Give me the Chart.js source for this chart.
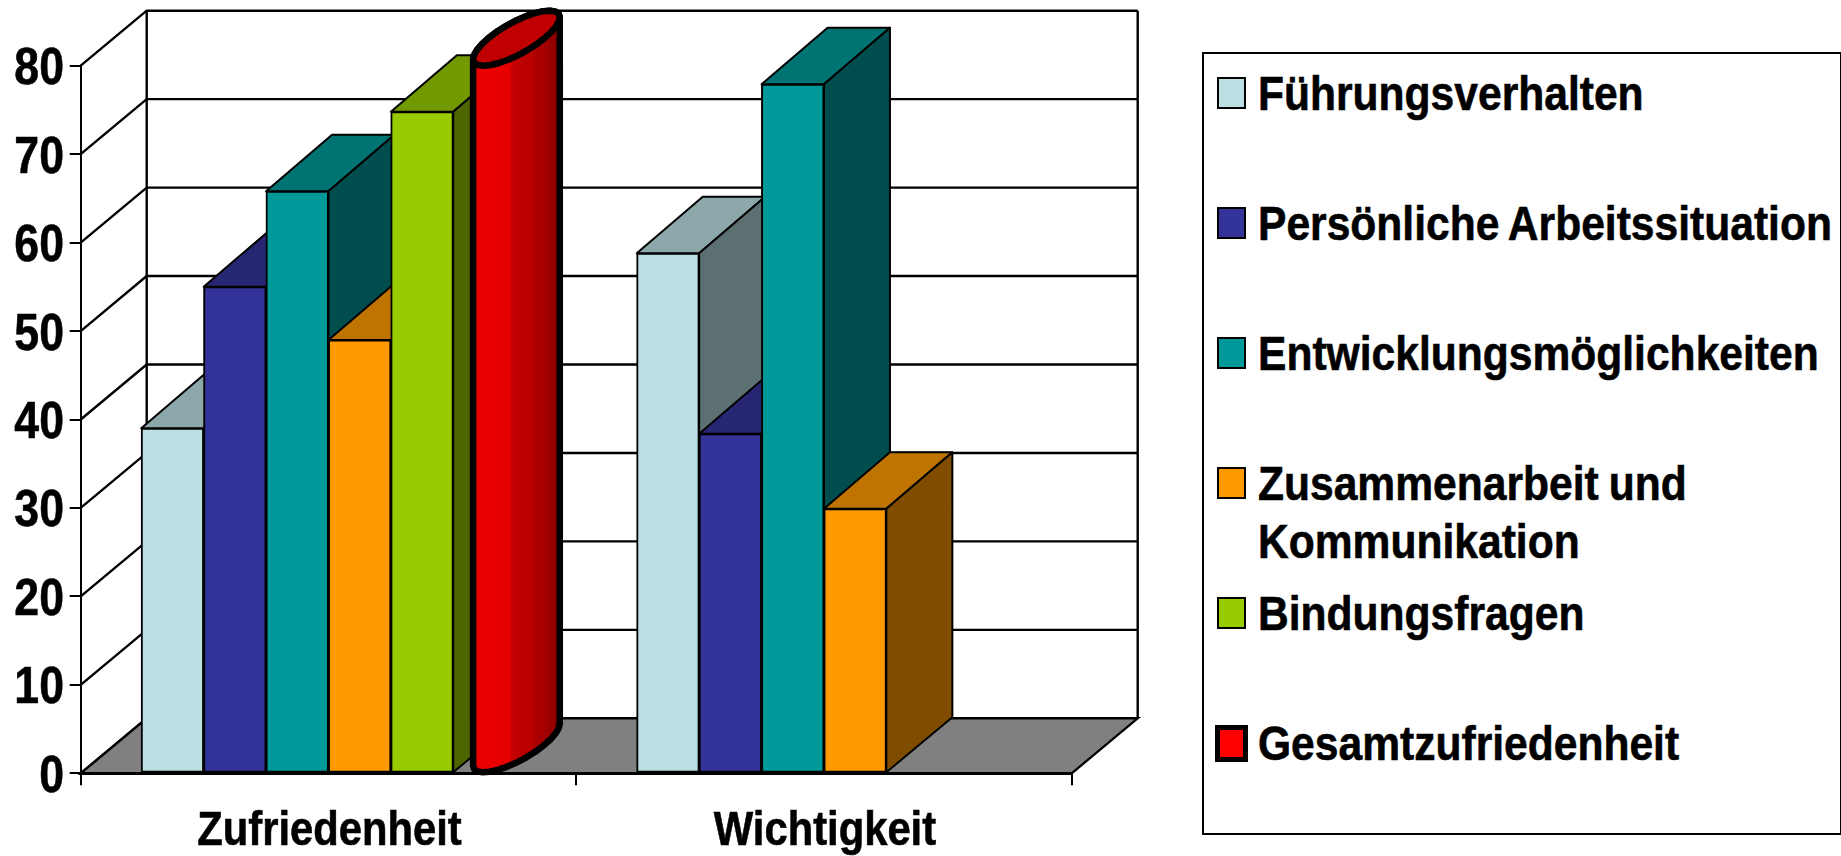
<!DOCTYPE html>
<html>
<head>
<meta charset="utf-8">
<title>Zufriedenheit und Wichtigkeit</title>
<script src="https://cdn.jsdelivr.net/npm/chart.js@4"></script>
<style>
    html, body { margin: 0; padding: 0; background: #fff; overflow: hidden; }
    #wrap { position: relative; width: 1841px; height: 856px; }
    #legend { position: absolute; left: 1202px; top: 52px; width: 636px; height: 779px; border: 2px solid #000; background: #fff; }
    .swatch { position: absolute; box-sizing: border-box; left: 13px; width: 29px; height: 32px; border: 2px solid #000; }
    .label { position: absolute; left: 54px; white-space: nowrap; font: bold 48px/58.7px "Liberation Sans", sans-serif; word-spacing: -2px; -webkit-text-stroke: 0.6px #000; color: #000; transform: scaleX(0.887); transform-origin: left top; }
</style>
</head>
<body>
<div id="wrap">
    <canvas id="chart" width="1841" height="856"></canvas>
    <div id="legend"></div>
</div>
<script>
var categories = ['Zufriedenheit', 'Wichtigkeit'];
var seriesNames = ['Führungsverhalten', 'Persönliche Arbeitssituation', 'Entwicklungsmöglichkeiten', 'Zusammenarbeit und\nKommunikation', 'Bindungsfragen', 'Gesamtzufriedenheit'];
var fuehrung = [39, 58.8];
var arbeitssituation = [55, 38.4];
var entwicklung = [65.8, 77.9];
var zusammenarbeit = [49, 29.9];
var bindung = [74.8, null];
var gesamt = [80, null];
var yTicks = [0, 10, 20, 30, 40, 50, 60, 70, 80];

var frontColors = ['#BBE0E3', '#333399', '#009999', '#FF9900', '#99CC00', '#FF0000'];
var topColors = ['#8CA8AA', '#262673', '#007373', '#BF7300', '#739900', '#C00000'];
var sideColors = ['#5D7071', '#1A1A4D', '#004D4D', '#804D00', '#4D6600', '#800000'];

var seriesValues = [fuehrung, arbeitssituation, entwicklung, zusammenarbeit, bindung, gesamt];

// depth of the fake 3d box, in pixels
var depthX = 66;
var depthY = 55;
var barDepthY = 56.5;

function poly(ctx, pts, fill) {
    ctx.beginPath();
    ctx.moveTo(pts[0][0], pts[0][1]);
    for (var i = 1; i < pts.length; i++) ctx.lineTo(pts[i][0], pts[i][1]);
    ctx.closePath();
    if (fill) {
        ctx.fillStyle = fill;
        ctx.fill();
    }
    ctx.stroke();
}

function drawWalls(chart) {
    var ctx = chart.ctx;
    var x = chart.scales.x;
    var y = chart.scales.y;
    ctx.save();
    ctx.strokeStyle = '#000';
    ctx.lineWidth = 2.4;
    yTicks.forEach(function(v) {
        var py = y.getPixelForValue(v);
        ctx.beginPath();
        ctx.moveTo(x.left, py);
        ctx.lineTo(x.left + depthX, py - depthY);
        if (v > 0) ctx.lineTo(x.right + depthX, py - depthY);
        ctx.stroke();
    });
    var top = y.getPixelForValue(80) - depthY;
    var floor = y.getPixelForValue(0) - depthY;
    ctx.beginPath();
    ctx.moveTo(x.left + depthX, floor);
    ctx.lineTo(x.left + depthX, top);
    ctx.moveTo(x.right + depthX, top);
    ctx.lineTo(x.right + depthX, floor);
    ctx.stroke();
    poly(ctx, [[x.left, y.bottom], [x.right, y.bottom], [x.right + depthX, floor], [x.left + depthX, floor]], '#808080');
    ctx.restore();
}

function drawBox(ctx, bar, i) {
    var l = bar.x - bar.width / 2;
    var r = bar.x + bar.width / 2;
    ctx.save();
    ctx.strokeStyle = '#000';
    ctx.lineWidth = 2;
    ctx.lineJoin = 'round';
    poly(ctx, [[l, bar.y], [r, bar.y], [r + depthX, bar.y - barDepthY], [l + depthX, bar.y - barDepthY]], topColors[i]);
    poly(ctx, [[r, bar.y], [r + depthX, bar.y - barDepthY], [r + depthX, bar.base - depthY], [r, bar.base]], sideColors[i]);
    ctx.restore();
}

// ellipse inscribed in the bar's top/bottom parallelogram
function capPoint(cx, cy, halfW, t) {
    return [cx + halfW * Math.cos(t) + depthX / 2 * Math.sin(t), cy - depthY / 2 * Math.sin(t)];
}

function drawCylinder(ctx, bar) {
    var halfW = bar.width / 2 * 0.9;
    var cx = bar.x + depthX / 2 - 1;
    var topY = bar.y - depthY / 2;
    var baseY = bar.base - depthY / 2;
    var tRight = Math.atan2(depthX, halfW * 2);
    var n = 14, k, p;
    var xMin = capPoint(cx, topY, halfW, tRight + Math.PI)[0];
    var xMax = capPoint(cx, topY, halfW, tRight)[0];

    // stepped shading, the original is made of narrow vertical strips
    var shades = ['#E80000', '#E80000', '#E80000', '#E80000', '#E60000', '#E60000', '#E40000', '#C40000', '#C00000', '#B80000', '#BC0000', '#AC0000', '#A80000', '#A00000', '#960000', '#8C0000'];
    var grad = ctx.createLinearGradient(xMin, 0, xMax, 0);
    shades.forEach(function(c, s) {
        grad.addColorStop(s / shades.length, c);
        grad.addColorStop((s + 1) / shades.length, c);
    });

    ctx.save();
    ctx.lineJoin = 'round';
    ctx.lineWidth = 6.5;
    ctx.strokeStyle = '#000';

    ctx.beginPath();
    for (k = 0; k <= n; k++) {
        p = capPoint(cx, baseY, halfW, tRight - Math.PI + Math.PI * k / n);
        if (k === 0) ctx.moveTo(p[0], p[1]); else ctx.lineTo(p[0], p[1]);
    }
    for (k = 0; k <= n; k++) {
        p = capPoint(cx, topY, halfW, tRight + Math.PI * k / n);
        ctx.lineTo(p[0], p[1]);
    }
    ctx.closePath();
    ctx.fillStyle = grad;
    ctx.fill();
    ctx.stroke();

    ctx.beginPath();
    for (k = 0; k < n * 2; k++) {
        p = capPoint(cx, topY, halfW, Math.PI * k / n);
        if (k === 0) ctx.moveTo(p[0], p[1]); else ctx.lineTo(p[0], p[1]);
    }
    ctx.closePath();
    ctx.fillStyle = topColors[5];
    ctx.fill();
    ctx.stroke();
    ctx.restore();
}

var box3d = {
    id: 'box3d',
    beforeDatasetsDraw: function(chart) {
        var ctx = chart.ctx;
        drawWalls(chart);
        // left to right so every bar covers the side of the one before
        chart.data.datasets.forEach(function(ds, i) {
            chart.getDatasetMeta(i).data.forEach(function(bar, j) {
                if (ds.data[j] === null) return;
                if (i === 5) {
                    drawCylinder(ctx, bar);
                } else {
                    drawBox(ctx, bar, i);
                    bar.draw(ctx);
                }
            });
        });
        return false;
    },
    // the reference text is condensed and no narrow font is installed
    afterDraw: function(chart) {
        var ctx = chart.ctx;
        var x = chart.scales.x;
        var y = chart.scales.y;
        ctx.save();
        ctx.fillStyle = '#000';
        ctx.strokeStyle = '#000';
        ctx.lineWidth = 0.6;
        ctx.textBaseline = 'alphabetic';
        ctx.font = 'bold 51px "Liberation Sans", sans-serif';
        ctx.textAlign = 'right';
        y.ticks.forEach(function(t, i) {
            squeezedText(ctx, t.label, x.left - 16.7, y.getPixelForTick(i) + 18.5, 0.875);
        });
        ctx.font = 'bold 48px "Liberation Sans", sans-serif';
        ctx.textAlign = 'center';
        x.ticks.forEach(function(t, i) {
            squeezedText(ctx, t.label, x.getPixelForTick(i) + 1, y.bottom + 71.7, 0.87);
        });
        ctx.restore();
    }
};

function squeezedText(ctx, text, px, py, sx) {
    ctx.save();
    ctx.translate(px, py);
    ctx.scale(sx, 1);
    ctx.fillText(text, 0, 0);
    ctx.strokeText(text, 0, 0);
    ctx.restore();
}

var datasets = seriesNames.map(function(name, i) {
    return {
        label: name,
        data: seriesValues[i],
        backgroundColor: frontColors[i],
        borderColor: '#000',
        borderWidth: 2,
        borderSkipped: false,
        inflateAmount: 0.5,
        categoryPercentage: 0.7556,
        barPercentage: 1
    };
});

new Chart(document.getElementById('chart').getContext('2d'), {
    type: 'bar',
    data: { labels: categories, datasets: datasets },
    plugins: [box3d],
    options: {
        responsive: false,
        animation: false,
        layout: { padding: { top: 65.7, right: 769.3, left: 0, bottom: 0 } },
        plugins: { legend: { display: false }, tooltip: { enabled: false } },
        scales: {
            x: {
                afterFit: function(s) { s.height = 82.7; },
                grid: { drawOnChartArea: false, color: '#000', lineWidth: 2, tickLength: 12 },
                border: { color: '#000', width: 3 },
                ticks: { display: false }
            },
            y: {
                min: 0,
                max: 80,
                afterFit: function(s) { s.width = 80.7; },
                afterBuildTicks: function(s) { s.ticks = yTicks.map(function(v) { return { value: v }; }); },
                grid: { drawOnChartArea: false, color: '#000', lineWidth: 2, tickLength: 11 },
                border: { color: '#000', width: 2 },
                ticks: { display: false }
            }
        }
    }
});

// legend is plain html, positions taken from the box
var legend = document.getElementById('legend');
seriesNames.forEach(function(name, i) {
    var rowTop = 23 + 130 * i;
    var sw = document.createElement('div');
    sw.className = 'swatch';
    sw.style.top = rowTop + 'px';
    sw.style.background = frontColors[i];
    if (i === 5) {
        sw.style.left = '11px';
        sw.style.top = (rowTop - 2) + 'px';
        sw.style.width = '33px';
        sw.style.height = '37px';
        sw.style.border = '5px solid #000';
    }
    legend.appendChild(sw);
    var lab = document.createElement('div');
    lab.className = 'label';
    lab.style.top = (rowTop - 12.5) + 'px';
    lab.innerHTML = name.replace('\n', '<br>');
    legend.appendChild(lab);
});
</script>
</body>
</html>
